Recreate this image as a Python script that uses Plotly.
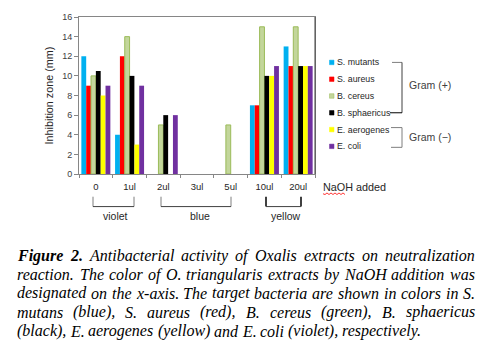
import plotly.graph_objects as go

# ---------------- data ----------------
categories = ["0", "1ul", "2ul", "3ul", "5ul", "10ul", "20ul"]
series_names = ["S. mutants", "S. aureus", "B. cereus", "B. sphaericus", "E. aerogenes", "E. coli"]
s_mutants = [12, 4, 0, 0, 0, 7, 13]
s_aureus = [9, 12, 0, 0, 0, 7, 11]
b_cereus = [10, 14, 5, 0, 5, 15, 15]
b_sphaericus = [10.5, 10, 6, 0, 0, 10, 11]
e_aerogenes = [8, 3, 0, 0, 0, 10, 11]
e_coli = [9, 9, 6, 0, 0, 11, 11]
series_values = [s_mutants, s_aureus, b_cereus, b_sphaericus, e_aerogenes, e_coli]
y_ticks = [0, 2, 4, 6, 8, 10, 12, 14, 16]

color_groups = [("violet", "0", "1ul"), ("blue", "2ul", "5ul"), ("yellow", "10ul", "20ul")]

caption_lines = [
    "Figure 2. Antibacterial activity of Oxalis extracts on neutralization",
    "reaction. The color of O. triangularis extracts by NaOH addition was",
    "designated on the x-axis. The target bacteria are shown in colors in S.",
    "mutans (blue), S. aureus (red), B. cereus (green), B. sphaericus",
    "(black), E. aerogenes (yellow) and E. coli (violet), respectively.",
]

# ---------------- styles ----------------
fills = ["#00B0F0", "#FF0000", "#C3D69B", "#000000", "#FFFF00", "#7030A0"]
edges = ["#00B0F0", "#FF0000", "#9BBB59", "#000000", "#FFFF00", "#7030A0"]
edge_w = [0, 0, 1, 0, 0, 0]

W, H = 483, 353
PL, PR, PT, PB = 79, 315, 15, 174


def px(x):
    return (x - PL) / (PR - PL)


def py(y):
    return (PB - y) / (PB - PT)


SANS = "Liberation Sans"
SERIF = "Liberation Serif"

fig = go.Figure()
for name, vals, fc, ec, ew in zip(series_names, series_values, fills, edges, edge_w):
    fig.add_trace(go.Bar(x=categories, y=vals, name=name, showlegend=False,
                         marker=dict(color=fc, line=dict(color=ec,
                                                         width=[ew if v > 0 else 0 for v in vals]))))

shapes = []
annotations = []


def line(x0, y0, x1, y1, color="#7f7f7f", width=1):
    shapes.append(dict(type="line", xref="paper", yref="paper",
                       x0=px(x0), y0=py(y0), x1=px(x1), y1=py(y1),
                       line=dict(color=color, width=width)))


def text(x, y, t, size=9.5, color="#262626", xanchor="left", family=SANS, **kw):
    annotations.append(dict(xref="paper", yref="paper", x=px(x), y=py(y), text=t,
                            showarrow=False, xanchor=xanchor, yanchor="middle",
                            borderpad=0, font=dict(family=family, size=size, color=color, **kw)))


# right border (dark)
line(PR, PT, PR, PB, color="#404040", width=1)

# legend
leg_y = [61, 78, 95, 112, 129, 146]
for name, fc, ec, yy in zip(series_names, fills, edges, leg_y):
    shapes.append(dict(type="rect", xref="paper", yref="paper",
                       x0=px(329.5), x1=px(334), y0=py(yy - 2.3), y1=py(yy + 2.3),
                       fillcolor=fc, line=dict(color=ec, width=0.5)))
    text(335.5, yy, name, size=8.8)

# Gram brackets
line(392, 61, 402, 61, color="#7f7f7f")
line(402, 61, 402, 112, color="#404040")
line(390, 112, 402, 112, color="#000000")
text(408, 84, "Gram (+)", size=10.5, color="#404040")
line(391, 127, 402, 127, color="#7f7f7f")
line(402, 127, 402, 147, color="#7f7f7f")
line(391, 147, 402, 147, color="#7f7f7f")
text(408, 137, "Gram (\u2212)", size=10.5, color="#404040")

# NaOH added
text(322, 187.5, "NaOH added", size=10.8, color="#262626")
zz = "M %f,%f" % (px(323), py(194))
for i in range(1, 12):
    zz += " L %f,%f" % (px(323 + 2 * i), py(194 + (0.8 if i % 2 else -0.8)))
shapes.append(dict(type="path", xref="paper", yref="paper", path=zz,
                   line=dict(color="#FF0000", width=0.8)))

# colour group brackets under x axis
bracket_px = {"violet": (93, 134, False), "blue": (161, 231, False), "yellow": (266, 301, True)}
label_x = {"violet": 115, "blue": 200, "yellow": 286}
for name, a, b in color_groups:
    x0, x1, dark = bracket_px[name]
    col = "#000000" if dark else "#7f7f7f"
    wd = 1.5 if dark else 1
    line(x0, 197, x0, 207, color=col, width=wd)
    line(x1, 197, x1, 207, color=col, width=wd)
    line(x0, 207, x1, 207, color="#404040", width=1)
    text(label_x[name], 216.5, name, size=10.5, color="#262626", xanchor="center")

# ---------------- caption (justified, word by word) ----------------
IT = {'a': 500, 'b': 500, 'c': 444, 'd': 500, 'e': 444, 'f': 278, 'g': 500, 'h': 500, 'i': 278,
      'j': 278, 'k': 444, 'l': 278, 'm': 722, 'n': 500, 'o': 500, 'p': 500, 'q': 500, 'r': 389,
      's': 389, 't': 278, 'u': 500, 'v': 444, 'w': 667, 'x': 444, 'y': 444, 'z': 389,
      'A': 611, 'B': 611, 'C': 667, 'D': 722, 'E': 611, 'F': 611, 'G': 722, 'H': 722, 'I': 333,
      'J': 444, 'K': 667, 'L': 556, 'M': 833, 'N': 667, 'O': 722, 'P': 611, 'Q': 722, 'R': 611,
      'S': 500, 'T': 556, 'U': 722, 'V': 611, 'W': 833, 'X': 611, 'Y': 556, 'Z': 556,
      '.': 250, ',': 250, '-': 333, '(': 333, ')': 333, ' ': 250}
BI = dict(IT)
BI.update({'F': 667, 'u': 556, 'g': 500, 'r': 389, 'e': 444, 'i': 278, '2': 500, '.': 250})
FS = 16.0


def wwidth(w, table):
    return sum(table.get(c, 500) for c in w) * FS / 1000.0


X0, X1 = 16, 474
line_y = [257, 276, 295, 314, 333.5]
for li, ln in enumerate(caption_lines):
    words = ln.split(" ")
    bold = [li == 0 and wi < 2 for wi in range(len(words))]
    widths = [wwidth(w, BI if b else IT) for w, b in zip(words, bold)]
    if li < len(caption_lines) - 1:
        gap = (X1 - X0 - sum(widths)) / (len(words) - 1)
    else:
        gap = 250 * FS / 1000.0
    xpos = X0
    for w, b, wd in zip(words, bold, widths):
        text(xpos, line_y[li], w, size=FS, color="#000000", family=SERIF,
             style="italic", weight=("bold" if b else "normal"))
        xpos += wd + gap

fig.update_layout(
    width=W, height=H,
    margin=dict(l=PL, r=W - PR, t=PT, b=H - PB, pad=0),
    paper_bgcolor="white", plot_bgcolor="white",
    barmode="group", bargap=0.14, bargroupgap=0,
    shapes=shapes, annotations=annotations,
    font=dict(family=SANS, color="#404040"),
    xaxis=dict(type="category", showline=True, linecolor="#868686", linewidth=1, mirror=True,
               ticks="outside", ticklen=3, tickcolor="#868686", tickson="boundaries",
               tickfont=dict(size=9.5, color="#262626"), showgrid=False, zeroline=False,
               ticklabelstandoff=4),
    yaxis=dict(range=[0, 16], tickvals=y_ticks, showline=True, linecolor="#868686", linewidth=1,
               mirror=True, ticks="outside", ticklen=4, tickcolor="#868686",
               tickfont=dict(size=9, color="#404040"), showgrid=False, zeroline=False,
               title=dict(text="Inhibition zone (mm)", font=dict(size=10.8, color="#262626"),
                          standoff=6)),
)

fig.write_html("out.html")
